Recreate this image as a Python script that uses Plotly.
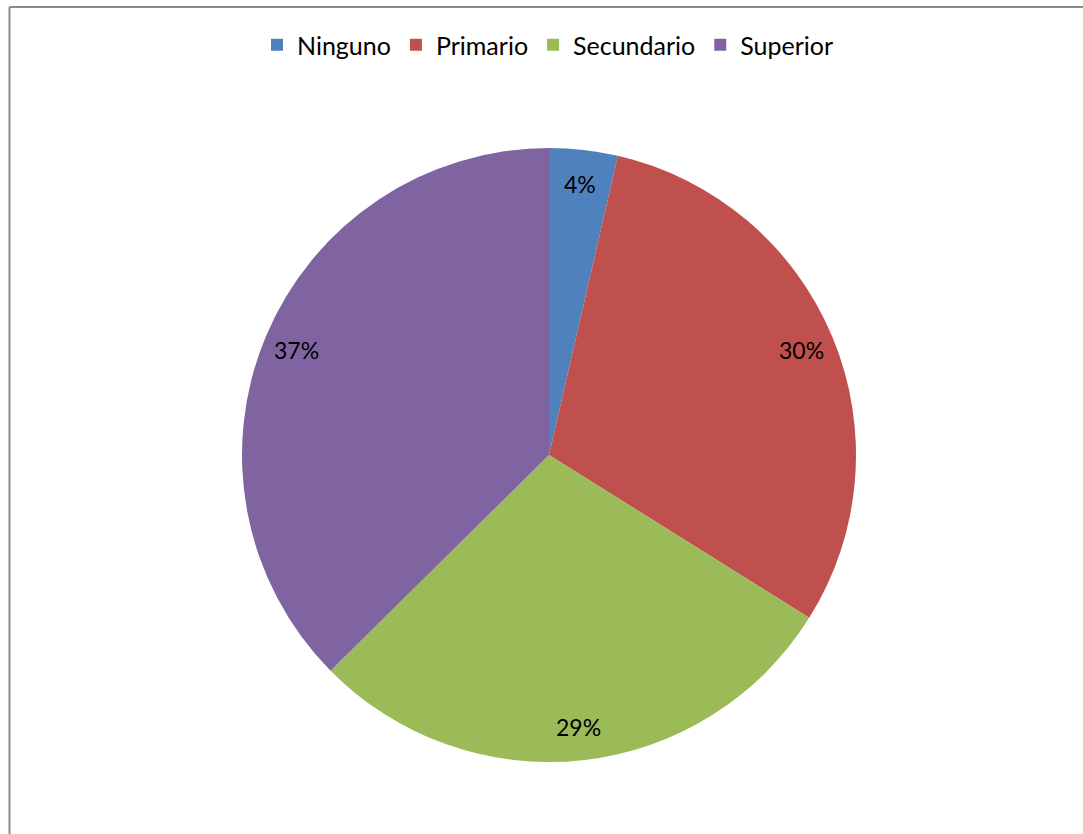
import math
import plotly.graph_objects as go

categories = ["Ninguno", "Primario", "Secundario", "Superior"]
values = [3.6, 30.3, 28.7, 37.4]
colors = ["#4F81BD", "#C0504D", "#9BBB59", "#8064A2"]

W, H = 1083, 834
cx, cy, R = 549, 455, 307
FONT = "Lato"

fig = go.Figure()
fig.add_trace(go.Pie(
    labels=categories,
    values=values,
    sort=False,
    direction="clockwise",
    rotation=0,
    marker=dict(colors=colors, line=dict(color="white", width=0)),
    textinfo="none",
    hoverinfo="label+percent",
    domain=dict(x=[(cx - R) / W, (cx + R) / W], y=[1 - (cy + R) / H, 1 - (cy - R) / H]),
))

# percentage labels placed at mid-angle of each slice
total = sum(values)
cum = 0.0
annotations = []
for v in values:
    mid = (cum + v / 2) / total * 2 * math.pi
    cum += v
    px = cx + 0.89 * R * math.sin(mid)
    py = cy - 0.89 * R * math.cos(mid)
    annotations.append(dict(
        x=px / W, y=1 - py / H, xref="paper", yref="paper",
        text=f"{round(v / total * 100)}%", showarrow=False,
        font=dict(family=FONT, size=23, color="#000000"),
        xanchor="center", yanchor="middle",
    ))

fig.update_layout(
    width=W, height=H,
    margin=dict(l=0, r=0, t=0, b=0),
    paper_bgcolor="white",
    plot_bgcolor="white",
    showlegend=True,
    legend=dict(
        orientation="h",
        x=0.506, xanchor="center",
        y=1 - 45 / H, yanchor="middle",
        font=dict(family=FONT, size=25, color="#000000"),
        itemsizing="constant",
        traceorder="normal",
    ),
    annotations=annotations,
    shapes=[
        dict(type="line", xref="paper", yref="paper", x0=9.5 / W, x1=1.01, y0=1 - 7 / H, y1=1 - 7 / H,
             line=dict(color="#8a8a8a", width=2)),
        dict(type="line", xref="paper", yref="paper", x0=9.5 / W, x1=9.5 / W, y0=1 - 7 / H, y1=-0.01,
             line=dict(color="#8a8a8a", width=2)),
    ],
)

fig.write_html("out.html", config={"displayModeBar": False},
               post_script="document.body.style.margin='0';")
